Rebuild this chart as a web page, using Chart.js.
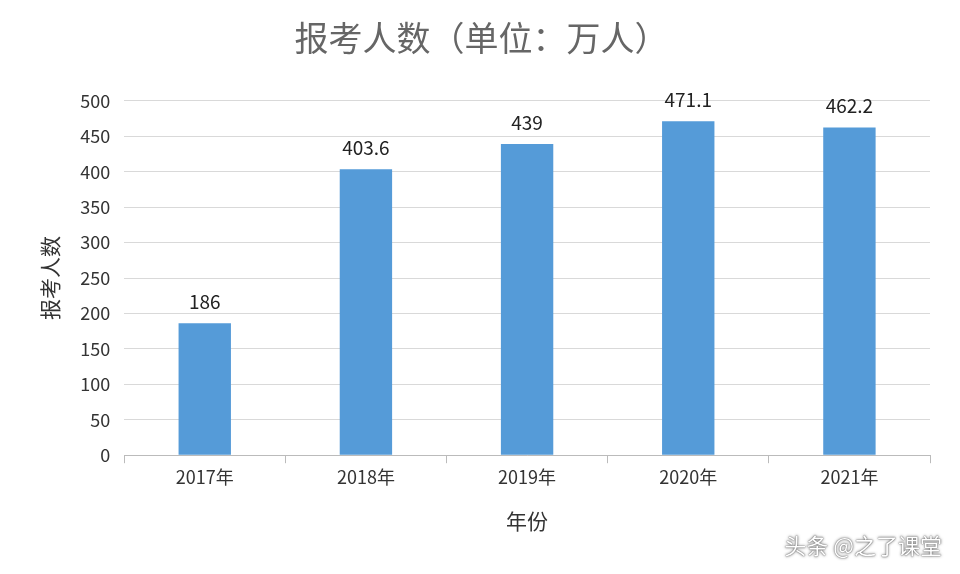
<!DOCTYPE html>
<html><head><meta charset="utf-8">
<script src="https://cdn.jsdelivr.net/npm/chart.js@4"></script>
<style>
html,body{margin:0;background:#fff;}
#wrap{position:relative;width:960px;height:574px;}
#mark{position:absolute;right:18px;bottom:14px;font:22px "Noto Sans CJK SC";color:#fff;text-shadow:0 0 3px #555,0 0 1px #333;}
</style></head>
<body><div id="wrap"><canvas id="c" width="960" height="574"></canvas><div id="mark">头条 @之了课堂</div></div>
<script>
const years = ['2017年', '2018年', '2019年', '2020年', '2021年'];
const counts = [186, 403.6, 439, 471.1, 462.2];
const labels = ['186', '403.6', '439', '471.1', '462.2'];

const valueLabels = {
  id: 'valueLabels',
  afterDatasetsDraw(chart) {
    const ctx = chart.ctx;
    ctx.save();
    ctx.font = '19px "Noto Sans CJK SC"';
    ctx.fillStyle = '#222';
    ctx.textAlign = 'center';
    ctx.textBaseline = 'bottom';
    chart.getDatasetMeta(0).data.forEach((b, i) => ctx.fillText(labels[i], b.x, b.y - 12));
    ctx.restore();
  }
};

new Chart(document.getElementById('c'), {
  type: 'bar',
  data: { labels: years, datasets: [{ data: counts, backgroundColor: '#559bd8', barPercentage: 0.65, categoryPercentage: 0.5 }] },
  options: {
    responsive: false, animation: false,
    layout: { padding: { left: 33, right: 30, top: 10, bottom: 40 } },
    plugins: {
      legend: { display: false }, tooltip: { enabled: false },
      title: { display: true, text: '报考人数（单位：万人）', color: '#666', font: { family: '"Noto Sans CJK SC"', size: 34, weight: 'normal' }, padding: { top: 8, bottom: 42 } }
    },
    scales: {
      x: {
        grid: { offset: true, drawOnChartArea: false, color: '#bbb', tickLength: 8 },
        border: { color: '#bbb' },
        ticks: { color: '#333', font: { family: '"Noto Sans CJK SC"', size: 18 } },
        title: { display: true, text: '年份', color: '#333', padding: { top: 18, bottom: 0 }, font: { family: '"Noto Sans CJK SC"', size: 21 } }
      },
      y: {
        min: 0, max: 500,
        ticks: { stepSize: 50, color: '#333', font: { family: '"Noto Sans CJK SC"', size: 18 }, padding: 14 },
        grid: { color: '#d9d9d9', drawTicks: false },
        border: { display: false },
        title: { display: true, text: '报考人数', color: '#333', font: { family: '"Noto Sans CJK SC"', size: 21 } }
      }
    }
  },
  plugins: [valueLabels]
});
</script></body></html>
